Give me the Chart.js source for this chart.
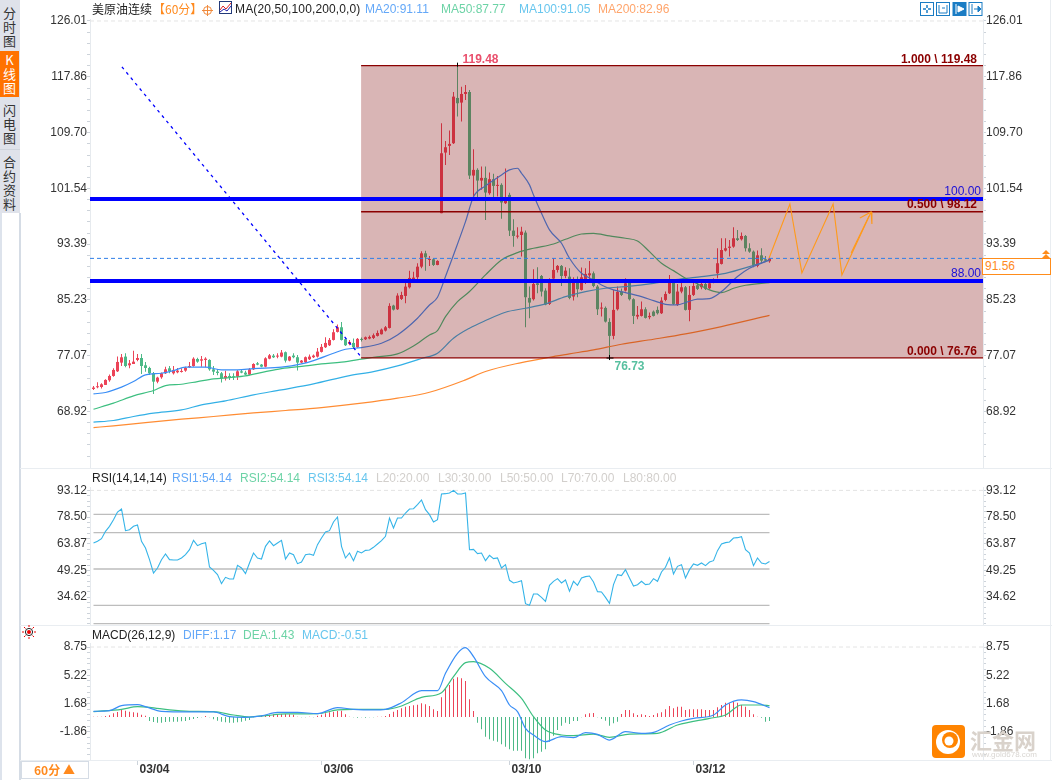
<!DOCTYPE html>
<html>
<head>
<meta charset="utf-8">
<title>美原油连续</title>
<script src="https://cdn.jsdelivr.net/npm/chart.js@4"></script>
<style>
  html, body { margin: 0; padding: 0; background: #fff; }
  #page { position: relative; width: 1052px; height: 780px; overflow: hidden; background: #fff;
          font: 12px "Liberation Sans", Arial, "Noto Sans CJK SC", sans-serif; color: #222; }
  canvas { position: absolute; left: 0; }
  .t { position: absolute; white-space: nowrap; line-height: 14px; }
  .tabs { position: absolute; left: 0; top: 0; width: 20px; height: 213px; background: #dfe2ea; }
  .tab { position: absolute; left: 0; width: 19px; text-align: center; line-height: 14px; color: #333;
         font-family: "Noto Sans CJK SC", sans-serif; font-size: 13px; }
  .tab.on { background: #ff7200; color: #fff; }
  .rule { position: absolute; background: #e9edf1; }
</style>
</head>
<body>
<div id="page">
  <canvas id="priceChart" width="1052" height="478" style="top:0"></canvas>
  <canvas id="rsiChart" width="1052" height="166" style="top:468px"></canvas>
  <canvas id="macdChart" width="1052" height="155" style="top:625px"></canvas>

  <div class="rule" style="left:0;top:213px;width:2px;height:567px;background:#dde3ec"></div>
  <div class="rule" style="left:19px;top:213px;width:2px;height:567px;background:#d5dce5"></div>
  <div class="rule" style="left:20px;top:468px;width:1032px;height:1px"></div>
  <div class="rule" style="left:20px;top:625px;width:1032px;height:1px"></div>
  <div class="rule" style="left:20px;top:760px;width:1032px;height:1px"></div>
  <div class="rule" style="left:1050px;top:0;width:1px;height:760px"></div>

  <div class="tabs">
    <div class="tab" style="top:6px">分<br>时<br>图</div>
    <div class="tab on" style="top:51px;height:46px;padding-top:2px;box-sizing:border-box">K<br>线<br>图</div>
    <div class="tab" style="top:103px">闪<br>电<br>图</div>
    <div class="rule" style="left:0;top:149px;width:20px;height:1px;background:#cfd4dc"></div>
    <div class="tab" style="top:155px">合<br>约<br>资<br>料</div>
  </div>

  <!-- price legend -->
  <div class="t" style="left:92px;top:2px;font-family:'Noto Sans CJK SC'">美原油连续</div>
  <div class="t" style="left:153px;top:2px;color:#ff8a1e;font-family:'Noto Sans CJK SC'">【60分】</div>
  <svg style="position:absolute;left:202px;top:5px" width="11" height="11">
    <circle cx="5.5" cy="5.5" r="4" fill="none" stroke="#f08a3c"/><path d="M0 5.5H11M5.5 0V11" stroke="#f08a3c"/>
  </svg>
  <svg style="position:absolute;left:219px;top:1px" width="13" height="13">
    <rect x=".5" y=".5" width="12" height="12" fill="#fff" stroke="#223a7a"/>
    <path d="M1 9L4 5L7 8L12 2" fill="none" stroke="#d22"/><path d="M1 11L5 8L8 10L12 5" fill="none" stroke="#22a"/>
  </svg>
  <div class="t" style="left:235px;top:2px;letter-spacing:.13px">MA(20,50,100,200,0,0)</div>
  <div class="t" style="left:365px;top:2px;color:#64a8f8">MA20:91.11</div>
  <div class="t" style="left:441px;top:2px;color:#6dd3a6">MA50:87.77</div>
  <div class="t" style="left:519px;top:2px;color:#68c6ee">MA100:91.05</div>
  <div class="t" style="left:598px;top:2px;color:#ffa56c">MA200:82.96</div>

  <!-- toolbar -->
  <svg style="position:absolute;left:920px;top:2px" width="63" height="14">
    <g fill="#fff" stroke="#1a7cc4">
      <rect x=".5" y=".5" width="13" height="13"/><rect x="16.5" y=".5" width="13" height="13"/>
      <rect x="33" y=".5" width="13" height="13" fill="#1a7cc4"/><rect x="49" y=".5" width="13" height="13"/>
    </g>
    <path d="M7 3V6M7 8V11M3 7H6M8 7H11" stroke="#1a7cc4" stroke-width="1.5"/>
    <path d="M19 3V11M27 3V11M19 11H27M22 6H25" stroke="#1a7cc4"/>
    <path d="M36 2V12M38 4L44 7L38 10Z" stroke="#fff" fill="#fff"/>
    <path d="M52 2V12M54 7H58M58 4L61 7L58 10Z" stroke="#1a7cc4" fill="#1a7cc4"/>
  </svg>

  <!-- last price box -->
  <div style="position:absolute;left:982px;top:258px;width:67px;height:15px;border:1.5px solid #ff8c1a;background:#fff"></div>
  <div class="t" style="left:985px;top:259px;color:#ff8a1e;line-height:15px">91.56</div>
  <svg style="position:absolute;left:1041px;top:250px" width="10" height="8">
    <path d="M1 4L5 0L9 4ZM1 8L5 4L9 8Z" fill="#ff8c1a"/>
  </svg>

  <!-- rsi legend -->
  <div class="t" style="left:92px;top:471px">RSI(14,14,14)</div>
  <div class="t" style="left:172px;top:471px;color:#64a8f8">RSI1:54.14</div>
  <div class="t" style="left:240px;top:471px;color:#6dd3a6">RSI2:54.14</div>
  <div class="t" style="left:308px;top:471px;color:#68c6ee">RSI3:54.14</div>
  <div class="t" style="left:376px;top:471px;color:#d2cfcc">L20:20.00</div>
  <div class="t" style="left:438px;top:471px;color:#d2cfcc">L30:30.00</div>
  <div class="t" style="left:500px;top:471px;color:#d2cfcc">L50:50.00</div>
  <div class="t" style="left:561px;top:471px;color:#d2cfcc">L70:70.00</div>
  <div class="t" style="left:623px;top:471px;color:#d2cfcc">L80:80.00</div>

  <!-- macd legend -->
  <svg style="position:absolute;left:22px;top:625px" width="14" height="14">
    <circle cx="7" cy="7" r="2" fill="#e00"/><circle cx="7" cy="7" r="3.6" fill="none" stroke="#222"/>
    <path d="M7 0V2M7 12V14M0 7H2M12 7H14M2 2L3.5 3.5M12 2L10.5 3.5M2 12L3.5 10.5M12 12L10.5 10.5" stroke="#e00"/>
  </svg>
  <div class="t" style="left:92px;top:628px">MACD(26,12,9)</div>
  <div class="t" style="left:183px;top:628px;color:#64a8f8">DIFF:1.17</div>
  <div class="t" style="left:243px;top:628px;color:#6dd3a6">DEA:1.43</div>
  <div class="t" style="left:302px;top:628px;color:#68c6ee">MACD:-0.51</div>

  <!-- period selector -->
  <div style="position:absolute;left:21px;top:761px;width:68px;height:18px;border:1px solid #d5dce5;box-sizing:border-box"></div>
  <div class="t" style="left:34px;top:763px;color:#ff8a1e;font-weight:bold;font-family:'Noto Sans CJK SC'">60分 ▲</div>

  <!-- watermark -->
  <svg style="position:absolute;left:932px;top:725px" width="33" height="33">
    <rect width="33" height="33" rx="4" fill="#ff8400"/>
    <circle cx="16" cy="17" r="12" fill="#fff"/><circle cx="18" cy="15" r="8" fill="#ff8400"/>
    <circle cx="17" cy="16" r="4.5" fill="#fff"/>
  </svg>
  <div class="t" style="left:970px;top:727px;color:#d9d2cb;font-size:22px;line-height:24px;font-weight:bold;font-family:'Noto Sans CJK SC'">汇金网</div>
  <div class="t" style="left:972px;top:750px;color:#d9d6d2;font-size:8px;line-height:10px">www.gold678.com</div>
</div>

<script>
// bars, one per hour, left to right
const opens = [
  72.21,72.46,72.50,72.80,73.48,74.11,74.79,76.06,76.94,75.67,
  75.86,76.45,76.74,75.67,75.28,74.50,73.28,73.92,74.50,75.23,
  74.50,74.65,74.70,74.89,75.38,75.57,76.59,76.35,76.45,76.45,
  75.08,74.74,74.50,73.77,74.11,74.01,74.01,74.79,74.60,74.31,
  75.08,75.96,75.77,75.47,76.64,77.08,76.94,76.94,77.58,76.36,
  77.09,76.85,76.07,76.12,76.55,76.85,76.94,77.63,78.31,78.60,
  79.38,80.55,81.23,79.48,78.80,78.94,78.31,79.53,79.48,79.58,
  79.67,79.97,80.21,80.74,81.13,84.40,83.86,85.37,85.81,87.07,
  88.15,88.54,90.09,92.04,91.07,91.17,90.34,97.91,106.77,107.75,
  108.14,114.76,114.08,115.34,115.63,103.41,104.24,102.68,103.07,100.83,
  102.88,101.90,102.05,99.37,100.59,95.36,94.48,94.72,95.07,85.52,
  85.33,87.66,88.73,86.59,84.64,88.34,89.61,90.20,88.73,88.63,
  85.72,87.91,86.69,88.15,88.83,89.12,87.18,83.96,84.06,82.01,
  79.97,83.86,86.45,86.59,87.76,85.33,82.79,82.89,83.86,82.70,
  83.52,83.77,83.28,85.23,86.20,87.91,84.50,86.45,87.08,83.77,
  85.96,87.37,87.08,87.57,86.93,87.91,89.12,90.49,92.44,92.83,
  93.02,94.24,94.09,94.58,92.78,92.29,90.20,91.75,91.17,90.88];
const closes = [
  72.41,72.55,72.89,73.53,74.11,74.99,76.16,76.84,75.57,75.96,
  76.20,76.74,75.57,75.28,74.50,73.28,73.87,74.50,75.08,74.84,
  74.99,74.89,74.84,75.28,75.57,76.64,76.20,76.55,76.64,75.08,
  74.74,74.55,73.77,74.11,73.87,73.92,74.79,74.60,74.31,75.08,
  75.86,75.77,75.47,76.69,77.13,76.84,77.08,77.53,76.36,76.94,
  76.85,76.07,76.36,76.85,76.94,77.09,77.67,78.36,78.94,79.38,
  80.50,81.23,79.38,78.60,79.09,78.31,79.53,79.38,79.77,79.82,
  80.06,80.40,80.89,81.23,84.35,83.81,85.86,85.95,87.17,88.44,
  88.49,90.09,92.04,91.46,91.17,90.34,90.93,106.67,107.55,108.04,
  114.95,113.98,115.34,115.63,103.41,104.24,102.68,103.07,100.93,102.88,
  101.90,102.00,99.47,99.71,95.36,94.58,94.58,95.21,85.62,84.84,
  87.57,87.42,86.45,84.55,88.15,89.61,90.20,88.73,89.51,85.52,
  87.91,86.79,88.54,89.03,89.12,87.27,83.86,84.06,82.06,79.97,
  83.77,86.40,85.96,87.66,85.33,82.89,83.04,83.86,82.60,82.89,
  82.89,83.28,85.13,86.10,88.15,84.64,86.45,87.08,83.77,85.96,
  87.27,86.84,87.57,86.84,87.66,88.15,90.59,92.53,92.78,93.02,
  94.24,93.99,94.58,92.78,92.29,90.34,91.75,90.97,90.97,91.27];
const highs = [
  72.65,73.19,73.04,73.62,74.31,75.23,76.94,77.32,77.42,76.45,
  77.81,77.32,77.32,76.16,75.47,74.69,74.01,74.60,75.47,75.57,
  75.57,75.28,75.23,75.47,76.16,76.84,76.79,77.03,76.84,76.55,
  75.57,75.08,74.69,74.89,74.50,74.50,74.99,74.99,74.89,75.28,
  75.96,76.16,75.86,76.84,77.32,77.32,77.42,77.92,77.68,77.04,
  77.43,77.19,76.46,76.94,77.24,77.24,78.21,78.80,79.77,79.67,
  80.94,81.62,82.01,79.72,79.38,79.58,79.67,79.72,79.87,80.02,
  80.31,80.74,81.04,81.43,84.74,84.54,86.20,86.44,88.15,89.51,
  89.36,90.58,92.33,92.43,91.66,91.32,91.02,111.06,108.48,109.99,
  115.63,119.48,116.41,116.66,115.93,107.26,104.48,104.73,104.73,103.85,
  103.66,103.36,102.29,104.43,100.90,97.01,95.84,95.94,95.36,87.18,
  89.71,90.00,88.88,86.93,88.39,91.32,90.34,90.34,90.00,89.85,
  88.54,88.64,89.95,89.85,90.93,89.37,87.42,84.84,84.25,82.55,
  86.69,87.18,86.89,88.39,87.91,85.47,84.35,84.98,84.16,83.38,
  83.67,84.25,85.62,86.45,88.88,88.25,87.57,87.91,87.27,87.27,
  87.91,87.91,87.91,87.76,88.25,88.39,92.78,94.24,94.24,93.99,
  95.84,95.46,95.07,94.72,93.51,92.44,92.44,92.78,91.66,91.56];
const lows = [
  72.06,72.31,72.26,72.80,73.28,74.01,74.69,75.57,75.38,75.23,
  75.86,76.25,74.40,74.74,74.26,71.48,73.04,73.72,74.40,74.50,
  74.31,74.50,74.60,74.74,75.28,75.47,76.06,75.47,75.38,74.89,
  74.26,74.21,73.14,73.43,73.53,73.53,73.53,74.50,74.21,74.21,
  74.99,75.67,75.38,75.38,76.55,76.74,76.69,76.85,76.07,76.26,
  76.70,74.90,75.97,76.02,76.46,76.75,76.80,77.53,78.21,78.50,
  79.28,80.45,79.28,78.50,78.60,78.16,78.21,79.14,79.38,79.48,
  79.53,79.87,80.16,80.60,81.04,83.67,83.76,85.22,84.74,86.88,
  87.90,88.24,89.85,89.51,90.20,90.20,90.29,97.91,104.97,106.43,
  108.04,112.03,111.30,114.47,102.92,100.34,100.10,101.32,96.93,100.59,
  99.86,100.34,97.08,99.27,94.58,93.02,94.19,91.56,81.23,82.55,
  85.13,86.20,85.72,84.45,84.50,88.15,89.22,87.27,88.39,85.33,
  85.13,85.62,86.59,87.57,88.15,87.08,83.04,82.79,81.92,76.73,
  79.48,83.67,85.81,86.45,85.13,81.72,82.40,82.79,82.50,82.40,
  82.79,83.09,83.18,85.03,86.10,84.50,84.35,86.20,83.67,82.11,
  85.81,86.69,86.79,86.69,86.79,87.66,88.39,90.39,92.29,91.56,
  92.87,93.85,93.90,92.29,92.14,90.00,90.00,90.58,90.83,90.68];

// moving averages, read at the bars listed in the *Bars arrays
const ma20Bars = [0,3,7,10,13,17,20,23,28,32,36,40,47,52,55,60,63,67,72,76,81,84,86,88,90,93,95,98,102,104,106,107,109,110,112,114,117,119,122,125,127,130,133,137,140,143,146,148,151,154,157,161,164,168,169];
const ma20 = [71.49,71.69,72.47,73.29,74.27,74.51,74.90,75.39,75.39,75.00,75.00,75.19,75.39,75.87,76.36,77.43,78.02,78.26,78.89,80.11,82.55,84.49,85.62,88.64,91.80,96.67,100.30,101.90,103.50,104.24,104.48,103.75,102.05,100.57,97.89,95.46,93.51,91.32,89.12,88.15,87.42,86.69,86.30,85.71,85.13,84.59,84.50,84.84,85.33,85.42,86.45,88.64,89.85,90.83,91.11];
const ma50Bars = [0,5,10,15,18,22,26,30,34,38,43,47,53,57,62,67,70,76,80,84,86,88,91,94,98,102,106,110,115,118,122,125,129,133,136,139,142,145,148,151,154,157,160,163,169];
const ma50 = [69.25,70.13,71.20,71.98,72.71,72.90,73.29,73.68,73.88,74.12,74.75,75.19,75.58,75.87,76.12,76.56,76.85,77.34,78.50,80.11,80.75,82.79,84.98,86.45,88.88,91.07,92.14,92.78,93.41,94.09,94.87,94.97,94.58,94.24,93.85,92.29,90.59,89.51,88.39,87.57,86.69,86.30,86.93,87.37,87.77];
const ma100Bars = [0,5,10,15,22,27,33,40,47,55,64,70,76,82,86,90,94,98,103,108,113,118,123,128,133,140,147,152,158,164,169];
const ma100 = [67.35,67.60,68.18,68.67,69.15,69.88,70.47,71.35,72.08,72.95,74.17,74.75,75.58,76.66,77.44,79.63,81.09,82.21,83.43,84.01,84.64,85.71,86.45,86.93,87.18,87.66,88.30,88.64,89.12,90.10,91.05];
const ma200Bars = [0,5,13,22,30,40,48,57,67,76,84,93,98,107,114,119,125,132,140,148,157,169];
const ma200 = [66.57,66.82,67.30,67.79,68.18,68.71,69.06,69.49,70.13,70.86,71.73,73.54,74.76,76.07,76.85,77.34,77.92,78.75,79.48,80.26,81.33,82.96];

// drawings on the price pane
const fibStartBar = 66.9;
const fibLevels = [119.48, 98.12, 76.76];
const keyLevels = [100, 88];
const lastLine = 91.3;
const trendBars = [7.1, 67.1];
const trendVals = [119.3, 76.76];
const zigzagBars = [168.9, 174.1, 177.1, 184.9, 187.1, 194.4];
const zigzagVals = [91.36, 99.26, 89.17, 99.26, 88.88, 98.09];
const arrowBars = [191.6, 194.4, 194.6];
const arrowVals = [97.21, 98.09, 96.33];
const shaftBars = [189.4, 193.9];
const shaftVals = [92.1, 97.5];

const rsi = [
  64.26,65.18,66.64,70.66,73.40,77.06,81.26,82.91,71.03,71.57,
  73.40,74.13,65.18,61.52,55.12,47.81,50.55,55.12,58.23,55.12,
  54.94,54.94,56.04,57.86,60.60,65.72,62.80,63.90,64.45,51.10,
  49.27,46.90,41.96,45.43,44.52,44.52,52.01,50.55,47.44,53.29,
  58.78,56.04,55.49,62.43,65.36,62.80,64.26,65.72,55.49,58.78,
  57.86,52.93,53.84,57.86,58.23,57.50,63.35,66.98,70.29,71.03,
  75.78,78.52,62.43,56.04,58.78,54.57,59.69,58.78,60.24,60.42,
  61.89,63.71,65.54,67.92,77.97,72.49,77.97,77.97,80.71,82.91,
  83.09,85.28,87.84,82.54,79.80,75.78,77.06,91.13,91.32,91.68,
  93.14,91.13,91.13,91.68,60.60,60.79,58.41,58.78,54.57,57.50,
  55.67,56.04,50.55,52.38,43.79,42.33,42.87,43.61,30.99,30.08,
  36.29,36.29,34.46,32.27,41.05,43.24,44.70,42.33,43.97,37.76,
  43.24,41.05,45.07,45.80,46.16,42.87,37.57,37.39,34.46,31.17,
  41.41,46.90,46.35,49.64,45.07,40.68,41.41,43.24,41.41,41.78,
  44.70,43.24,48.36,50.92,56.04,47.26,51.47,52.38,45.07,49.64,
  52.75,52.01,53.29,51.83,53.84,54.57,60.06,63.71,64.45,64.81,
  66.98,67.19,67.73,60.60,58.78,51.83,56.04,53.29,52.75,54.14];
const rsiLevels = [20, 30, 50, 70, 80];

const macdHist = [
  .04,.04,.04,.13,.21,.46,.63,.88,.79,.67,
  .58,.54,.29,.17,-.5,-.63,-.71,-.71,-.63,-.58,
  -.58,-.58,-.54,-.5,-.38,-.25,-.13,-.04,.13,-.04,
  -.29,-.46,-.58,-.67,-.71,-.71,-.67,-.58,-.46,-.38,
  -.04,.13,.17,.21,.29,.33,.38,.38,.38,.33,
  .29,.04,-.04,-.04,.04,-.04,.17,.29,.46,.58,
  .67,.75,.79,.33,.04,-.04,-.08,-.04,-.08,-.04,
  -.04,.04,.04,.13,.38,.67,.88,1.08,1.29,1.38,
  1.46,1.54,1.71,1.58,1.38,.96,.75,2.46,3.58,4.0,
  4.79,4.96,4.83,4.5,2.21,.75,-.71,-1.54,-2.46,-2.79,
  -2.96,-3.08,-3.42,-3.71,-4.04,-4.21,-4.21,-4.21,-5.17,-5.29,
  -5.17,-4.54,-4.33,-4.04,-3.08,-2.33,-1.63,-1.08,-.71,-.88,
  -.5,-.5,-.04,.33,.46,.5,-.04,-.25,-.46,-1.08,
  -.79,-.58,.38,.88,.88,.46,.25,.33,.25,.13,
  .25,.46,.58,.96,1.38,1.08,1.29,1.29,.88,.96,
  .96,.96,.96,.88,.88,.88,1.21,1.5,1.79,1.71,
  1.88,1.79,1.5,1.29,.88,.33,.04,-.08,-.58,-.51];
const diffBars = [0,4,7,11,13,17,24,30,34,38,42,46,51,56,61,65,70,73,77,82,86,88,91,93,95,98,102,104,106,108,110,113,117,120,123,126,129,133,137,140,144,147,150,155,158,162,165,169];
const diff = [.71,.79,1.42,1.54,1.29,.71,.63,.63,.04,-.04,.13,.58,.58,.42,1.17,.96,.88,.96,1.79,3.29,3.29,5.46,7.96,8.67,7.54,5.04,3.29,1.5,.67,-1.42,-2.25,-3.08,-2.46,-2.58,-1.96,-2.17,-2.88,-1.83,-2.04,-1.92,-1.0,-.5,-.17,.25,1.5,2.13,1.92,1.17];
const deaBars = [0,7,11,14,19,24,30,35,39,43,48,56,61,65,73,77,82,87,90,93,95,99,103,107,110,113,117,120,125,129,134,141,146,154,158,162,167,169];
const dea = [.67,.96,1.29,1.21,.88,.71,.67,.25,0,.17,.38,.42,.88,.96,.96,1.38,2.46,3.04,5.04,6.79,6.92,6.08,4.21,2.33,.04,-1.63,-2.25,-2.33,-2.13,-2.54,-2.13,-2.04,-1.0,-.17,.25,1.5,1.5,1.43];

// axis labels
const priceTicks = [68.92, 77.07, 85.23, 93.39, 101.54, 109.70, 117.86, 126.01];
const rsiTicks = [34.62, 49.25, 63.87, 78.50, 93.12];
const macdTicks = [-1.86, 1.68, 5.22, 8.75];
const dateBars = [11, 57, 104, 150];
const dateLabels = ['03/04', '03/06', '03/10', '03/12'];

const UP = '#ec4458', DOWN = '#4cb987';
const C_MA20 = '#3a8ef6', C_MA50 = '#3dbf80', C_MA100 = '#33b0e6', C_MA200 = '#ff8c33';
const DARK_RED = '#8b0000', ORANGE = '#ff9a1a';
const FONT = '"Liberation Sans", Arial, sans-serif';
const X_MIN = -0.875, X_MAX = 222.375;
const lastBar = closes.length - 1;

Chart.defaults.font.family = FONT;
Chart.defaults.font.size = 12;

const pts = (bars, vals) => bars.map((x, k) => ({ x, y: vals[k] }));

function lineDs(data, color, width, order, extra) {
  return Object.assign({
    type: 'line', data, borderColor: color, borderWidth: width, pointRadius: 0,
    tension: 0, fill: false, order,
  }, extra || {});
}
const curve = (bars, vals, color, order) =>
  lineDs(pts(bars, vals), color, 1.2, order, { cubicInterpolationMode: 'monotone' });
const hline = (v, color, width, order, extra) =>
  lineDs(pts([X_MIN, X_MAX], [v, v]), color, width, order, extra);

// 4 small ticks between two labels, blank text
function axisTicks(majors, min, max) {
  const step = (majors[1] - majors[0]) / 5, out = [];
  for (let v = majors[0] - step * Math.ceil((majors[0] - min) / step); v <= max; v += step) {
    if (v >= min) out.push({ value: v });
  }
  out.forEach(t => {
    const m = majors.find(k => Math.abs(k - t.value) < step / 2);
    if (m !== undefined) t.value = m;
  });
  return out;
}

function yScale(position, width, majors, min, max) {
  return {
    position, min, max, width,
    afterBuildTicks: s => { s.ticks = axisTicks(majors, min, max); },
    afterFit: s => { s.width = width; },
    ticks: {
      autoSkip: false, padding: 0, color: '#333', font: { size: 12 },
      callback: v => (majors.includes(v) ? v.toFixed(2) : ''),
    },
    grid: { drawOnChartArea: false, tickLength: 3, tickColor: '#cdd3da' },
    border: { color: '#e6eaee' },
  };
}

function baseOptions(majors, min, max, padding, xScale) {
  return {
    responsive: false, animation: false, events: [], devicePixelRatio: 1,
    layout: { padding },
    plugins: { legend: { display: false }, tooltip: { enabled: false } },
    scales: {
      x: xScale || { type: 'linear', display: false, min: X_MIN, max: X_MAX, offset: false },
      y: yScale('left', 90, majors, min, max),
      yr: yScale('right', 69, majors, min, max),
    },
  };
}

/* ── marks that carry text on the price pane ─────────────────────── */
const priceLabels = {
  id: 'priceLabels',
  afterDatasetsDraw(chart) {
    const { ctx, scales: { x, y }, chartArea } = chart;
    const right = chartArea.right;
    const put = (s, px, py, color, font, align) => {
      ctx.font = font; ctx.fillStyle = color; ctx.textAlign = align; ctx.textBaseline = 'middle';
      ctx.fillText(s, px, py);
    };
    const bold = 'bold 12px ' + FONT, plain = '12px ' + FONT;
    ctx.save();
    put('1.000 \\ 119.48', right - 6, y.getPixelForValue(119.48) - 6, DARK_RED, bold, 'right');
    put('0.500 \\ 98.12', right - 6, y.getPixelForValue(98.12) - 7, DARK_RED, bold, 'right');
    put('0.000 \\ 76.76', right - 6, y.getPixelForValue(76.76) - 6, DARK_RED, bold, 'right');
    put('100.00', right - 2, y.getPixelForValue(100) - 7, '#1a10d8', plain, 'right');
    put('88.00', right - 2, y.getPixelForValue(88) - 7, '#1a10d8', plain, 'right');
    put('119.48', x.getPixelForValue(91) + 5, y.getPixelForValue(119.48) - 6, '#ea4f6c', bold, 'left');
    put('76.73', x.getPixelForValue(129) + 5, y.getPixelForValue(76.73) + 9, '#58c0a0', bold, 'left');
    // high and low markers
    ctx.strokeStyle = '#000'; ctx.lineWidth = 1;
    const hx = Math.floor(x.getPixelForValue(91)) + .5, hy = y.getPixelForValue(119.48);
    ctx.beginPath(); ctx.moveTo(hx, hy - 3); ctx.lineTo(hx, hy + 1); ctx.stroke();
    const lx = Math.floor(x.getPixelForValue(129)) + .5, ly = y.getPixelForValue(76.73);
    ctx.beginPath(); ctx.moveTo(lx, ly - 3); ctx.lineTo(lx, ly + 2);
    ctx.moveTo(lx - 3, ly); ctx.lineTo(lx + 4, ly); ctx.stroke();
    ctx.restore();
  },
};

/* ── price pane ──────────────────────────────────────────────────── */
const candleColors = closes.map((c, i) => (c >= opens[i] ? UP : DOWN));
const priceTop = 126.30, priceBottom = 60.8;

new Chart(document.getElementById('priceChart'), {
  type: 'bar',
  data: {
    datasets: [
      { data: lows.map((l, i) => ({ x: i, y: [l, highs[i]] })), backgroundColor: candleColors,
        barThickness: 1, inflateAmount: 0, grouped: false, order: 9 },
      { data: opens.map((o, i) => ({ x: i, y: [o, closes[i]] })), backgroundColor: candleColors,
        barThickness: 3, inflateAmount: 0, minBarLength: 1, grouped: false, order: 8 },
      curve(ma200Bars, ma200, C_MA200, 7),
      curve(ma100Bars, ma100, C_MA100, 6),
      curve(ma50Bars, ma50, C_MA50, 5),
      curve(ma20Bars, ma20, C_MA20, 4),
      hline(126.01, '#e4e4e4', 1, 4, { borderDash: [4, 3] }),
      // fib box, tints everything beneath it
      lineDs(pts([fibStartBar, X_MAX], [fibLevels[0], fibLevels[0]]), 'rgba(0,0,0,0)', 0, 3,
        { fill: { value: fibLevels[2] }, backgroundColor: 'rgba(130,10,10,0.3)' }),
      ...fibLevels.map(v => lineDs(pts([fibStartBar, X_MAX], [v, v]), DARK_RED, 1.3, 2)),
      ...keyLevels.map(v => hline(v, '#0000ff', 4, 2)),
      hline(lastLine, '#2f7fe8', 1, 2, { borderDash: [4, 3] }),
      lineDs(pts(trendBars, trendVals), '#0000ff', 1.3, 2, { borderDash: [3, 4] }),
      lineDs(pts(zigzagBars, zigzagVals), ORANGE, 1.1, 1),
      lineDs(pts(arrowBars, arrowVals), ORANGE, 1.1, 1),
      lineDs(pts(shaftBars, shaftVals), ORANGE, 1.1, 1),
    ],
  },
  options: baseOptions(priceTicks, priceBottom, priceTop, { top: 19, bottom: 11 }),
  plugins: [priceLabels],
});

/* ── RSI pane ────────────────────────────────────────────────────── */
new Chart(document.getElementById('rsiChart'), {
  type: 'bar',
  data: {
    datasets: [
      hline(93.12, '#e4e4e4', 1, 3, { borderDash: [4, 3] }),
      ...rsiLevels.map(v => lineDs(pts([0, lastBar], [v, v]), '#bdbdbd', 1.3, 2)),
      lineDs(rsi.map((v, i) => ({ x: i, y: v })), '#35b4e8', 1.1, 1),
    ],
  },
  options: baseOptions(rsiTicks, 19.28, 94.98, { top: 19, bottom: 9 }),
});

/* ── MACD pane ───────────────────────────────────────────────────── */
new Chart(document.getElementById('macdChart'), {
  type: 'bar',
  data: {
    datasets: [
      hline(8.75, '#e4e4e4', 1, 4, { borderDash: [4, 3] }),
      { data: macdHist.map((v, i) => ({ x: i, y: v })),
        backgroundColor: macdHist.map(v => (v >= 0 ? UP : DOWN)),
        barThickness: 1, inflateAmount: 0, grouped: false, order: 3 },
      curve(deaBars, dea, C_MA50, 2),
      curve(diffBars, diff, C_MA20, 1),
    ],
  },
  options: baseOptions(macdTicks, -5.375, 9.25, { top: 18 }, {
    type: 'linear', min: X_MIN, max: X_MAX, offset: false,
    afterBuildTicks: s => { s.ticks = dateBars.map(value => ({ value })); },
    afterFit: s => { s.height = 20; },
    ticks: {
      autoSkip: false, maxRotation: 0, align: 'start', labelOffset: 2, padding: -3,
      color: '#333', font: { size: 12, weight: 'bold' },
      callback: v => dateLabels[dateBars.indexOf(v)],
    },
    grid: { offset: false, drawOnChartArea: false, tickLength: 5, tickColor: '#ccd3da' },
    border: { color: '#e6eaee' },
  }),
});
</script>
</body>
</html>
